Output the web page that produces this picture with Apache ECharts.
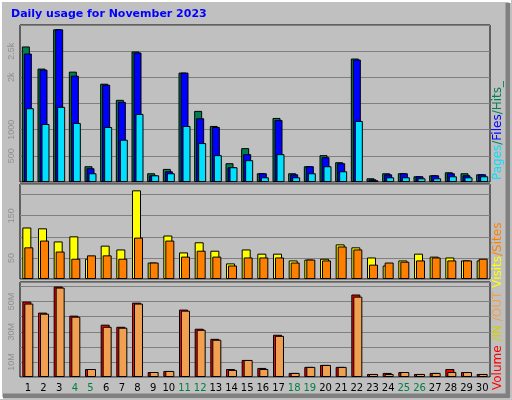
<!DOCTYPE html>
<html><head><meta charset="utf-8">
<script src="https://cdn.jsdelivr.net/npm/echarts@6/dist/echarts.min.js"></script>
<style>body{margin:0;background:#c0c0c0}#c{width:512px;height:400px}</style>
</head><body><div id="c"></div>
<script>
const days = ['1','2','3','4','5','6','7','8','9','10','11','12','13','14','15','16','17','18','19','20','21','22','23','24','25','26','27','28','29','30'];
const weekend = ['4','5','11','12','18','19','25','26'];
const hits  = [2590,2167,2917,2109,301,1878,1570,2494,167,250,2090,1359,1071,359,647,167,1224,167,301,513,378,2359,71,167,167,109,128,186,167,147];
const files = [2455,2147,2917,2032,263,1859,1532,2474,128,205,2090,1218,1051,282,532,167,1186,147,301,474,359,2340,51,147,167,109,128,167,128,147];
const pages = [1410,1109,1436,1128,167,1051,808,1301,128,167,1071,744,513,282,417,90,532,90,167,301,205,1167,32,90,90,71,71,109,90,109];
const visits = [122,120,89,101,48,79,70,210,39,103,63,87,67,37,70,60,60,44,46,48,82,75,51,32,44,60,53,51,44,44];
const sites  = [75,91,65,48,56,56,48,98,39,91,53,67,53,32,51,51,51,39,46,44,77,70,34,39,41,44,51,44,44,48];
const volume = [50,42.7,60,40.7,5.3,34.7,33.3,49.3,3.3,4,44.7,32,25.3,5.3,11.3,6,28,2.7,6.7,8,6.7,54.7,2,2.7,3.3,2,2.7,5.3,3.3,2];
const outVol = [48.7,42,59.3,40,5.3,33.3,32.7,48.7,3.3,4,44,31.3,24.7,4.7,11.3,5.3,27.3,2.7,6.7,8,6.7,53.3,2,2,3.3,2,2.7,3.3,3.3,2];

const chart = echarts.init(document.getElementById('c'));
const grids = [
  { left: 20, right: 22, top: 25, height: 157 },
  { left: 20, right: 22, top: 184, height: 95 },
  { left: 20, right: 22, top: 282, height: 95 }
].map(g => Object.assign(g, { show: true, borderColor: '#000', borderWidth: 1, backgroundColor: '#c0c0c0' }));

function xAx(i) {
  return {
    type: 'category', gridIndex: i, data: days,
    axisLine: { show: false }, axisTick: { show: false },
    axisLabel: i === 2 ? {
      interval: 0, fontSize: 10, margin: 6, fontFamily: 'DejaVu Sans',
      formatter: v => weekend.includes(v) ? '{w|' + v + '}' : '{d|' + v + '}',
      rich: { w: { color: '#008040', fontSize: 10 }, d: { color: '#000', fontSize: 10 } }
    } : { show: false }
  };
}
function yAx(i, max, interval, labels) {
  return {
    type: 'value', gridIndex: i, min: 0, max, interval,
    axisLine: { show: false }, axisTick: { show: false },
    splitLine: { lineStyle: { color: '#808080', width: 1 } },
    axisLabel: { rotate: 90, fontSize: 9, color: '#909090', margin: 4,
      formatter: v => labels[v] || '' }
  };
}
const bar = (name, data, color, xi, w, gap) => ({
  name, type: 'bar', data, xAxisIndex: xi, yAxisIndex: xi,
  barWidth: w, barGap: gap, animation: false,
  itemStyle: { color, borderColor: '#000', borderWidth: 1 }
});

chart.setOption({
  backgroundColor: '#c0c0c0',
  title: { text: 'Daily usage for November 2023', left: 6, top: 4,
    textStyle: { color: '#0000ff', fontSize: 11, fontWeight: 'bold', fontFamily: 'DejaVu Sans' } },
  grid: grids,
  xAxis: [xAx(0), xAx(1), xAx(2)],
  yAxis: [
    yAx(0, 3000, 500, { 500: '500', 1000: '1000', 2000: '2k', 2500: '2.5k' }),
    yAx(1, 225, 50, { 50: '50', 150: '150' }),
    yAx(2, 63, 10, { 10: '10M', 30: '30M', 50: '50M' })
  ],
  series: [
    bar('Hits', hits, '#008050', 0, 8, '-75%'),
    bar('Files', files, '#0000ff', 0, 8, '-75%'),
    bar('Pages', pages, '#00e0ff', 0, 8, '-75%'),
    bar('Visits', visits, '#ffff00', 1, 9, '-78%'),
    bar('Sites', sites, '#ff8000', 1, 9, '-78%'),
    bar('Volume', volume, '#ff0000', 2, 9, '-78%'),
    bar('OUT', outVol, '#f0a050', 2, 9, '-78%')
  ],
  graphic: [
    { type: 'rect', shape: { x: 1, y: 1, width: 509, height: 397 }, style: { fill: 'none', stroke: '#fff', lineWidth: 2 } },
    { type: 'polyline', shape: { points: [[508, 3], [508, 396], [3, 396]] }, style: { fill: 'none', stroke: '#808080', lineWidth: 5 } },
    { type: 'text', x: 492, y: 180, rotation: Math.PI / 2,
      style: { text: '{p|Pages}{s|/}{f|Files}{s|/}{h|Hits_}', font: '12px DejaVu Sans',
        rich: { p: { fill: '#00e0ff' }, f: { fill: '#0000ff' }, h: { fill: '#008050' }, s: { fill: '#008050' } } } },
    { type: 'text', x: 492, y: 390, rotation: Math.PI / 2,
      style: { text: '{r|Volume} {i|/IN} {o|/OUT} {v|Visits}{t|/Sites}', font: '12px DejaVu Sans',
        rich: { r: { fill: '#ff0000' }, i: { fill: '#d0d000' }, o: { fill: '#f0a050' }, v: { fill: '#ffff00' }, t: { fill: '#ff8000' } } } }
  ]
});
</script></body></html>
